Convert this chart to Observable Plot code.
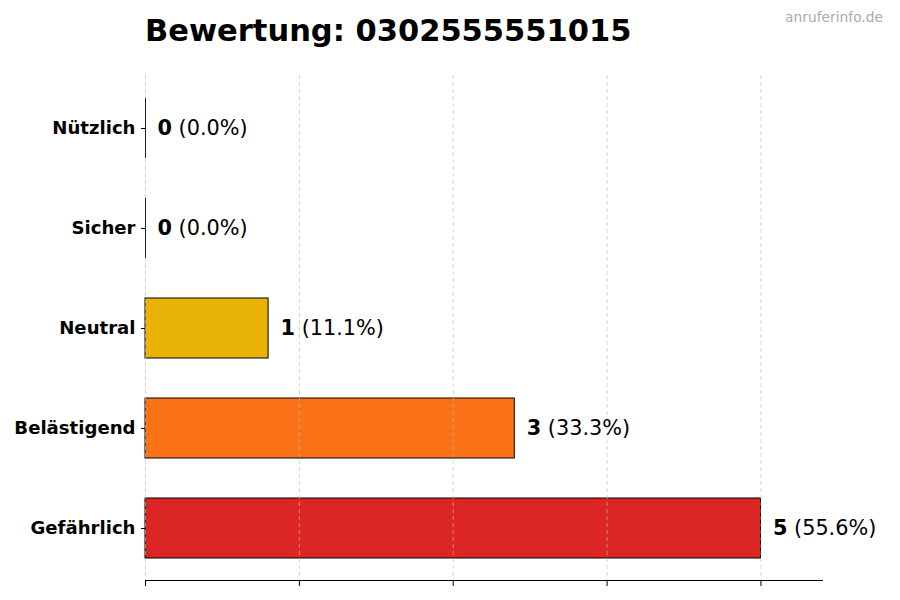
<!DOCTYPE html>
<html>
<head>
<meta charset="utf-8">
<script src="https://cdn.jsdelivr.net/npm/d3@7"></script>
<script src="https://cdn.jsdelivr.net/npm/@observablehq/plot@0.6"></script>
<style>
  body { margin: 0; background: #fff; }
  #wrap { position: relative; width: 900px; height: 600px; font-family: "DejaVu Sans", sans-serif; }
  #title { position: absolute; left: 145px; top: 13px; font-size: 30.5px; font-weight: bold; color: #000; white-space: nowrap; }
  #mark { position: absolute; right: 17px; top: 9px; font-size: 13.8px; color: #aaaaaa; white-space: nowrap; }
  #chart { position: absolute; left: 0; top: 0; }
</style>
</head>
<body>
<div id="wrap">
  <div id="chart"></div>
  <div id="title">Bewertung: 0302555551015</div>
  <div id="mark">anruferinfo.de</div>
</div>
<script>
const categories = ["Nützlich", "Sicher", "Neutral", "Belästigend", "Gefährlich"];
const counts = [0, 0, 1, 3, 5];
const colors = ["#22c55e", "#16a34a", "#eab308", "#f97316", "#dc2626"];
const xTicks = [0, 1.25, 2.5, 3.75, 5];
const xMax = 5.5;

const total = d3.sum(counts);
const data = categories.map((c, i) => ({
  cat: c,
  value: counts[i],
  pct: "(" + (total ? (counts[i] / total * 100) : 0).toFixed(1) + "%)"
}));

const valueFont = 20.8;

const chart = Plot.plot({
  width: 900,
  height: 600,
  marginTop: 75,
  marginBottom: 20,
  marginLeft: 145,
  marginRight: 78,
  style: { fontFamily: "DejaVu Sans, sans-serif", background: "transparent" },
  x: { domain: [0, xMax], axis: null },
  y: { domain: categories, paddingInner: 0.4, paddingOuter: 0.225, axis: null },
  color: { domain: categories, range: colors },
  marks: [
    Plot.barX(data, { y: "cat", x: "value", fill: "cat", stroke: "black", strokeWidth: 1 }),
    Plot.gridX(xTicks, { stroke: "#bbb", strokeOpacity: 0.8, strokeDasharray: "4,3", strokeWidth: 0.8 }),
    Plot.tickX(data.filter(d => d.value === 0), { x: "value", y: "cat", stroke: "#222", strokeWidth: 1 }),
    Plot.frame({ anchor: "bottom", stroke: "black", strokeWidth: 1 }),
    Plot.axisX({ ticks: xTicks, tickFormat: () => "", tickSize: 6, stroke: "black", label: null }),
    Plot.axisY({ tickSize: 4, tickPadding: 6, fontSize: 18.1, fontWeight: "bold", fill: "black", label: null }),
    Plot.text(data, { y: "cat", x: "value", text: d => String(d.value), dx: 12, textAnchor: "start", fontSize: valueFont, fontWeight: "bold", fill: "black" }),
    Plot.text(data, { y: "cat", x: "value", text: "pct", textAnchor: "start", fontSize: valueFont, fill: "black", dx: 12 + 0.696 * valueFont + 0.318 * valueFont })
  ]
});
document.getElementById("chart").appendChild(chart);
</script>
</body>
</html>
